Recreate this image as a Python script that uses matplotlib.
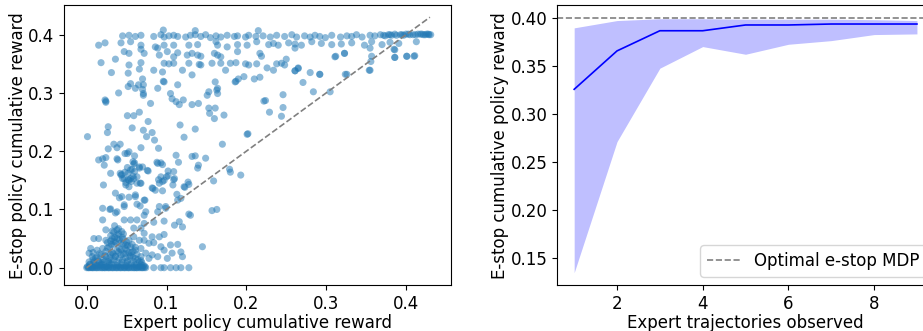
import numpy as np
import matplotlib
matplotlib.use("Agg")
import matplotlib.pyplot as plt

plt.rcParams['font.size'] = 12
plt.rcParams['axes.labelpad'] = 1.0

# ---- left panel: expert vs e-stop reward ----
# top band (y around 0.33 - 0.41)
band_x = [0.045, 0.053, 0.061, 0.068, 0.084, 0.093, 0.097, 0.103, 0.109, 0.114, 0.124, 0.130, 0.136,
          0.143, 0.149, 0.155, 0.162, 0.168, 0.176, 0.185, 0.189, 0.199, 0.203, 0.212, 0.096, 0.136,
          0.215, 0.221, 0.230, 0.238, 0.248, 0.257, 0.263, 0.273, 0.280, 0.286, 0.292, 0.299, 0.307,
          0.318, 0.326, 0.332, 0.338, 0.345, 0.355, 0.361, 0.368, 0.374, 0.378, 0.382, 0.386, 0.393,
          0.397, 0.403, 0.409, 0.415, 0.420, 0.424, 0.428, 0.431,
          0.372, 0.380, 0.388, 0.395, 0.400, 0.405, 0.412, 0.418, 0.422, 0.426, 0.429]
band_y = [0.398, 0.399, 0.397, 0.399, 0.397, 0.400, 0.396, 0.398, 0.399, 0.397, 0.396, 0.399, 0.400,
          0.397, 0.400, 0.395, 0.398, 0.396, 0.399, 0.397, 0.398, 0.396, 0.399, 0.397, 0.408, 0.407,
          0.407, 0.398, 0.396, 0.399, 0.397, 0.400, 0.396, 0.398, 0.396, 0.399, 0.397, 0.395, 0.399,
          0.396, 0.398, 0.397, 0.400, 0.396, 0.399, 0.398, 0.400, 0.398, 0.400, 0.399, 0.401, 0.400,
          0.399, 0.401, 0.400, 0.401, 0.401, 0.400, 0.401, 0.400,
          0.399, 0.400, 0.399, 0.400, 0.401, 0.400, 0.400, 0.401, 0.400, 0.401, 0.400]

upper_x = [0.043, 0.055, 0.068, 0.086, 0.097, 0.109, 0.128, 0.139, 0.162, 0.164, 0.176, 0.189, 0.201,
           0.213, 0.228, 0.234, 0.240, 0.253, 0.261, 0.269, 0.282, 0.294, 0.307, 0.319, 0.332, 0.348,
           0.357, 0.370, 0.380, 0.391, 0.413,
           0.047, 0.053, 0.068, 0.072, 0.089, 0.091, 0.101, 0.109, 0.114, 0.126, 0.132, 0.139, 0.143,
           0.160, 0.164, 0.168, 0.189,
           0.217, 0.219, 0.261, 0.311, 0.323, 0.355, 0.357, 0.385, 0.386, 0.401, 0.411,
           0.018, 0.036, 0.053, 0.068, 0.097, 0.103, 0.109, 0.128, 0.141, 0.143, 0.157, 0.168, 0.180,
           0.187, 0.199, 0.203,
           0.213, 0.226, 0.234, 0.238, 0.244, 0.250, 0.248, 0.261, 0.265, 0.280, 0.292, 0.324, 0.355,
           0.031, 0.052, 0.066, 0.084, 0.095, 0.120, 0.132, 0.174, 0.187, 0.197,
           0.055, 0.061, 0.071, 0.071, 0.089, 0.097, 0.105, 0.114, 0.153, 0.164, 0.164, 0.040,
           0.015, 0.023]
upper_y = [0.386, 0.388, 0.382, 0.379, 0.382, 0.382, 0.382, 0.383, 0.388, 0.382, 0.379, 0.383, 0.382,
           0.388, 0.383, 0.385, 0.382, 0.386, 0.384, 0.382, 0.388, 0.385, 0.383, 0.384, 0.386, 0.382,
           0.388, 0.383, 0.387, 0.385, 0.388,
           0.371, 0.368, 0.375, 0.368, 0.377, 0.365, 0.371, 0.362, 0.369, 0.365, 0.368, 0.365, 0.363,
           0.368, 0.365, 0.362, 0.371,
           0.368, 0.363, 0.377, 0.362, 0.368, 0.377, 0.363, 0.375, 0.361, 0.363, 0.364,
           0.352, 0.358, 0.348, 0.352, 0.351, 0.350, 0.351, 0.351, 0.349, 0.348, 0.351, 0.351, 0.351,
           0.352, 0.350, 0.348,
           0.350, 0.343, 0.339, 0.350, 0.351, 0.358, 0.348, 0.338, 0.343, 0.335, 0.332, 0.332, 0.339,
           0.335, 0.334, 0.341, 0.339, 0.336, 0.339, 0.331, 0.339, 0.320, 0.328,
           0.316, 0.308, 0.314, 0.299, 0.308, 0.319, 0.299, 0.314, 0.302, 0.308, 0.299, 0.300,
           0.382, 0.386]

# scattered points in the middle of the plot
mid_x = [0.284, 0.271, 0.292, 0.326, 0.305, 0.224, 0.229, 0.246, 0.246, 0.244, 0.202,
         0.217, 0.210, 0.190, 0.186, 0.261, 0.265, 0.312, 0.323, 0.354, 0.356, 0.386, 0.401, 0.410, 0.386,
         0.001, 0.024, 0.024, 0.027, 0.026, 0.027, 0.034, 0.015, 0.020, 0.024, 0.022, 0.038, 0.030,
         0.021, 0.029, 0.036,
         0.052, 0.065, 0.070, 0.070, 0.051, 0.059, 0.066, 0.057, 0.071, 0.077, 0.082, 0.075, 0.085,
         0.090, 0.068, 0.080, 0.096, 0.023,
         0.107, 0.116, 0.121, 0.132, 0.140, 0.117, 0.122, 0.136, 0.153, 0.161, 0.154, 0.160, 0.172,
         0.161, 0.163, 0.170, 0.151, 0.222, 0.201, 0.071, 0.112,
         0.132, 0.136, 0.149, 0.140, 0.139, 0.159, 0.157, 0.163, 0.179, 0.180, 0.193, 0.128, 0.123,
         0.113, 0.114, 0.109, 0.109, 0.115, 0.112, 0.130, 0.127, 0.122, 0.110, 0.108,
         0.093, 0.088, 0.090, 0.095, 0.083, 0.076, 0.070, 0.063, 0.067, 0.073, 0.099, 0.102, 0.089,
         0.089, 0.095, 0.102, 0.100, 0.093, 0.097, 0.091, 0.082, 0.086, 0.095, 0.077,
         0.042, 0.038, 0.039, 0.048, 0.051, 0.060, 0.058, 0.059, 0.066, 0.042, 0.044, 0.048, 0.052,
         0.057, 0.047, 0.052, 0.055, 0.058, 0.049, 0.056, 0.063, 0.067, 0.061, 0.053, 0.044, 0.047,
         0.036, 0.074, 0.051, 0.055, 0.060, 0.066, 0.043, 0.045, 0.053, 0.059, 0.049, 0.053, 0.063,
         0.068, 0.053, 0.060]
mid_y = [0.302, 0.318, 0.332, 0.332, 0.302, 0.287, 0.267, 0.297, 0.275, 0.260, 0.230,
         0.327, 0.324, 0.324, 0.319, 0.338, 0.342, 0.363, 0.368, 0.339, 0.354, 0.361, 0.363, 0.363, 0.374,
         0.225, 0.286, 0.284, 0.242, 0.232, 0.204, 0.212, 0.185, 0.187, 0.189, 0.176, 0.187, 0.162,
         0.142, 0.100, 0.094,
         0.311, 0.314, 0.306, 0.324, 0.261, 0.261, 0.267, 0.240, 0.236, 0.251, 0.232, 0.225, 0.219,
         0.205, 0.206, 0.282, 0.320, 0.288,
         0.290, 0.280, 0.288, 0.280, 0.282, 0.245, 0.224, 0.238, 0.274, 0.274, 0.265, 0.256, 0.262,
         0.319, 0.305, 0.212, 0.296, 0.286, 0.229, 0.296, 0.285,
         0.191, 0.192, 0.188, 0.176, 0.171, 0.149, 0.098, 0.100, 0.169, 0.164, 0.159, 0.143, 0.138,
         0.126, 0.116, 0.165, 0.151, 0.181, 0.193, 0.090, 0.147, 0.139, 0.153, 0.142,
         0.180, 0.181, 0.151, 0.148, 0.136, 0.167, 0.173, 0.109, 0.106, 0.116, 0.102, 0.158, 0.096,
         0.179, 0.177, 0.166, 0.156, 0.156, 0.150, 0.145, 0.137, 0.133, 0.132, 0.166,
         0.212, 0.206, 0.185, 0.196, 0.196, 0.192, 0.182, 0.178, 0.173, 0.162, 0.160, 0.164, 0.162,
         0.169, 0.153, 0.151, 0.153, 0.157, 0.146, 0.148, 0.156, 0.145, 0.125, 0.121, 0.122, 0.108,
         0.128, 0.096, 0.172, 0.168, 0.165, 0.171, 0.159, 0.153, 0.150, 0.153, 0.142, 0.139, 0.145,
         0.145, 0.199, 0.180]

# cluster near the origin
low_x = [0.041, 0.061, 0.072, 0.020, 0.030, 0.038, 0.047, 0.091, 0.099, 0.118, 0.128, 0.020, 0.047,
         0.055, 0.063, 0.072, 0.072, 0.084, 0.097, 0.116, 0.120, 0.110, 0.024, 0.032, 0.034, 0.038,
         0.059, 0.068, 0.072, 0.009, 0.015, 0.024, 0.032, 0.038, 0.045, 0.053, 0.059, 0.066, 0.072,
         0.082, 0.091, 0.097, 0.078, 0.084, 0.093, 0.105, 0.114, 0.097, 0.107, 0.118, 0.120, 0.145,
         0.005, 0.003, 0.013, 0.020, 0.028, 0.034, 0.041, 0.049, 0.055, 0.061, 0.068, 0.074, 0.082,
         0.078, 0.089, 0.101,
         0.007, 0.011, 0.018, 0.024, 0.030, 0.036, 0.043, 0.049, 0.055, 0.061, 0.068, 0.009, 0.015,
         0.022, 0.030, 0.038, 0.045, 0.051, 0.059, 0.066,
         0.004, 0.012, 0.020, 0.028, 0.036, 0.044, 0.052, 0.060, 0.068, 0.008, 0.016, 0.024, 0.032,
         0.040, 0.048, 0.056, 0.026, 0.034, 0.042, 0.050, 0.038, 0.046, 0.030, 0.044, 0.040, 0.035]
low_y = [0.120, 0.122, 0.116, 0.102, 0.101, 0.096, 0.105, 0.105, 0.105, 0.119, 0.092, 0.082, 0.082,
         0.082, 0.082, 0.090, 0.076, 0.078, 0.080, 0.079, 0.070, 0.073, 0.065, 0.063, 0.061, 0.065,
         0.068, 0.068, 0.059, 0.050, 0.050, 0.047, 0.050, 0.050, 0.052, 0.047, 0.053, 0.047, 0.047,
         0.053, 0.053, 0.057, 0.042, 0.043, 0.036, 0.039, 0.040, 0.030, 0.025, 0.027, 0.019, 0.036,
         0.033, 0.025, 0.030, 0.033, 0.036, 0.039, 0.033, 0.039, 0.036, 0.030, 0.033, 0.025, 0.022,
         0.016, 0.019, 0.016,
         0.019, 0.016, 0.022, 0.019, 0.023, 0.019, 0.022, 0.017, 0.021, 0.016, 0.019, 0.010, 0.011,
         0.010, 0.013, 0.010, 0.013, 0.010, 0.011, 0.010,
         0.005, 0.005, 0.005, 0.005, 0.005, 0.005, 0.005, 0.005, 0.005, 0.026, 0.024, 0.028, 0.026,
         0.027, 0.024, 0.026, 0.043, 0.045, 0.042, 0.044, 0.056, 0.058, 0.055, 0.062, 0.067, 0.072]

# the darkest blob right at the origin
core_x = [0.001, 0.004, 0.006, 0.009, 0.012, 0.014, 0.017, 0.019, 0.021, 0.025, 0.027, 0.029, 0.031,
          0.034, 0.036, 0.039, 0.041, 0.044, 0.046, 0.049, 0.051, 0.054, 0.056, 0.058, 0.062, 0.064,
          0.066, 0.069, 0.071, 0.073,
          0.003, 0.008, 0.013, 0.018, 0.023, 0.028, 0.033, 0.038, 0.043, 0.048, 0.053, 0.058, 0.063,
          0.068, 0.026, 0.031, 0.036, 0.041, 0.046, 0.051, 0.035, 0.040, 0.045, 0.030, 0.050, 0.057,
          0.061]
core_y = [0.002, 0.006, 0.001, 0.008, 0.003, 0.012, 0.004, 0.009, 0.014, 0.002, 0.011, 0.017, 0.006,
          0.013, 0.020, 0.004, 0.016, 0.009, 0.024, 0.003, 0.012, 0.019, 0.007, 0.028, 0.005, 0.014,
          0.002, 0.009, 0.004, 0.002,
          0.010, 0.014, 0.018, 0.006, 0.021, 0.008, 0.024, 0.029, 0.031, 0.033, 0.026, 0.018, 0.023,
          0.012, 0.034, 0.040, 0.044, 0.048, 0.041, 0.038, 0.052, 0.058, 0.049, 0.046, 0.030, 0.040,
          0.035]

# points sitting on zero e-stop reward
zero_x = [0.000, 0.003, 0.007, 0.010, 0.013, 0.017, 0.020, 0.023, 0.027, 0.030, 0.033, 0.037, 0.040,
          0.043, 0.047, 0.050, 0.053, 0.057, 0.060, 0.063, 0.067, 0.070, 0.074, 0.084, 0.093, 0.097,
          0.105, 0.112, 0.118, 0.128, 0.002, 0.008, 0.015, 0.022, 0.028, 0.035, 0.042, 0.048, 0.055,
          0.062, 0.069, 0.005, 0.012, 0.019, 0.025, 0.032, 0.038, 0.045, 0.052, 0.059, 0.065, 0.072]
zero_y = [0.0] * len(zero_x)

# ---- right panel: reward vs number of expert trajectories ----
n_traj = [1, 2, 3, 4, 5, 6, 7, 8, 9]
mean_reward = [0.326, 0.366, 0.387, 0.387, 0.393, 0.393, 0.394, 0.394, 0.394]
upper_reward = [0.390, 0.3976, 0.3995, 0.3995, 0.399, 0.399, 0.399, 0.3985, 0.3976]
lower_reward = [0.135, 0.2715, 0.348, 0.3705, 0.3625, 0.3729, 0.3767, 0.383, 0.3837]
optimal_reward = 0.40

fig = plt.figure(figsize=(9.23, 3.31), dpi=100)
ax1 = fig.add_axes([0.0697, 0.139, 0.419, 0.845])
ax2 = fig.add_axes([0.6035, 0.139, 0.4085, 0.845])

xs = np.concatenate([band_x, upper_x, mid_x, low_x, core_x, zero_x])
ys = np.concatenate([band_y, upper_y, mid_y, low_y, core_y, zero_y])
ax1.scatter(xs, ys, s=26, color='tab:blue', alpha=0.5, edgecolors='none')
ax1.plot([0, 0.43], [0, 0.43], '--', color='gray', lw=1.2)
ax1.set_xlim(-0.028, 0.4565)
ax1.set_ylim(-0.0297, 0.4505)
ax1.set_xticks([0.0, 0.1, 0.2, 0.3, 0.4])
ax1.set_yticks([0.0, 0.1, 0.2, 0.3, 0.4])
ax1.set_xlabel('Expert policy cumulative reward')
ax1.set_ylabel('E-stop policy cumulative reward')

ax2.fill_between(n_traj, lower_reward, upper_reward, color='blue', alpha=0.25, lw=0)
ax2.plot(n_traj, mean_reward, color='blue', lw=1.2)
ax2.axhline(optimal_reward, ls='--', color='gray', lw=1.2, label='Optimal e-stop MDP')
ax2.set_xlim(0.6, 9.4)
ax2.set_ylim(0.1222, 0.4135)
ax2.set_xticks([2, 4, 6, 8])
ax2.set_yticks([0.15, 0.20, 0.25, 0.30, 0.35, 0.40])
ax2.set_xlabel('Expert trajectories observed')
ax2.set_ylabel('E-stop cumulative policy reward')
ax2.legend(loc='lower right')

fig.savefig('out.png', dpi=100)
